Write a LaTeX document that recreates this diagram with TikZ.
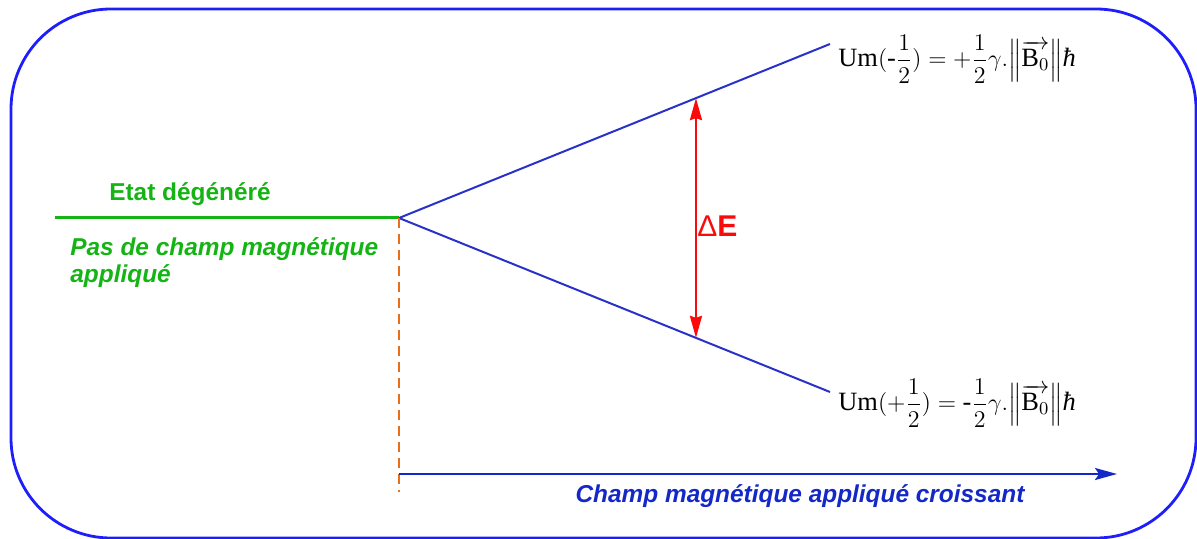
\documentclass[tikz,border=0pt]{standalone}
\usepackage{amsmath}
\usepackage{fontspec}
\setmainfont{Liberation Serif}
\newfontfamily\arialfont{Liberation Sans}
\usetikzlibrary{positioning,arrows.meta,calc}
\definecolor{cadreblue}{RGB}{30,30,250}
\definecolor{niveaublue}{RGB}{40,50,200}
\definecolor{axeblue}{RGB}{20,40,200}
\definecolor{etatgreen}{RGB}{20,180,20}
\definecolor{deltared}{RGB}{250,10,10}
\definecolor{dashorange}{RGB}{230,110,30}
\tikzset{
  cadre/.style={draw=cadreblue,line width=1.4pt,rounded corners=50pt},
  niveau/.style={draw=niveaublue,line width=1pt},
  etatlbl/.style={text=etatgreen,font=\arialfont\bfseries\fontsize{12.2}{14}\selectfont,inner sep=0pt},
  formule/.style={font=\fontsize{13.2}{15.5}\selectfont,inner sep=2pt},
  fl/.style={-{Stealth[length=11pt,width=6pt,inset=1pt]},line width=1.2pt,deltared},
}
\newcommand{\hb}{\mbox{\itshape ħ}}
\begin{document}
\begin{tikzpicture}[x=0.5pt,y=-0.5pt]
\useasboundingbox (0,0) rectangle (1197,539);
\draw[cadre] (11,9) rectangle (1196,538);
% niveaux d'energie
\coordinate (g) at (55,218);
\coordinate (deg) at (399,218);
\coordinate (hi) at (830,44);
\coordinate (lo) at (830,392);
\coordinate (ahi) at ($(deg)!0.689!(hi)$);
\coordinate (alo) at ($(deg)!0.689!(lo)$);
\coordinate (dbas) at (399,492);
\coordinate (ax0) at (399,474);
\coordinate (ax1) at (1117,474);
\draw[etatgreen,line width=1.5pt](g)--(deg);
\draw[niveau](deg)--(hi);\draw[niveau](deg)--(lo);
\draw[dashorange,line width=1.4pt,dash pattern=on 5pt off 3pt](deg)--(dbas);
\draw[fl,{Stealth[length=11pt,width=6pt,inset=1pt]}-{Stealth[length=11pt,width=6pt,inset=1pt]}](ahi)--(alo);
\draw[axeblue,line width=1.2pt,-{Stealth[length=11pt,width=6pt,inset=2pt]}](ax0)--(ax1);
% textes
\node[etatlbl,anchor=base](etat) at (190,201){Etat dégénéré};
\node[etatlbl,font=\arialfont\bfseries\itshape\fontsize{12.2}{13.8}\selectfont,anchor=north west,align=left](pas) at (70,237){Pas de champ magnétique\\appliqué};
\node[text=deltared,font=\arialfont\bfseries\fontsize{15}{17}\selectfont,inner sep=0pt,anchor=west](de) at (697,226){{\mdseries Δ}E};
\node[text=axeblue,font=\arialfont\bfseries\itshape\fontsize{12.2}{14}\selectfont,inner sep=0pt,anchor=base](champ) at (800,502){Champ magnétique appliqué croissant};
\node[formule,anchor=west](uhi) at (834,59){$\mathrm{Um}(\mbox{-}\dfrac{1}{2})=+\dfrac{1}{2}\gamma.\Bigl\|\overrightarrow{\mathrm{B}_0}\Bigr\|\hb$};
\node[formule,anchor=west](ulo) at (834,403){$\mathrm{Um}(+\dfrac{1}{2})=\mbox{-}\dfrac{1}{2}\gamma.\Bigl\|\overrightarrow{\mathrm{B}_0}\Bigr\|\hb$};
\end{tikzpicture}
\end{document}
